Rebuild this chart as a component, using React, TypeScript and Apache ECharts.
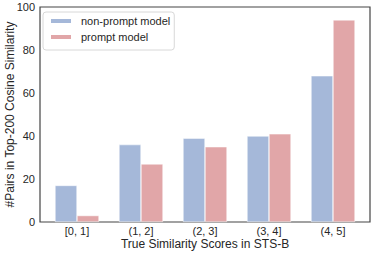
import React, { useEffect, useRef } from "react";
import * as echarts from "echarts";

const categories = ["[0, 1]", "(1, 2]", "(2, 3]", "(3, 4]", "(4, 5]"];
const nonPrompt = [17, 36, 39, 40, 68];
const prompt = [3, 27, 35, 41, 94];
const yTicks = [0, 20, 40, 60, 80, 100];

const FONT = "Liberation Sans, Arial, sans-serif";
const TXT = "#262626";

export default function App() {
  const ref = useRef<HTMLDivElement>(null);
  useEffect(() => {
    const chart = echarts.init(ref.current!, undefined, { renderer: "svg" });
    chart.setOption({
      animation: false,
      textStyle: { fontFamily: FONT },
      grid: {
        left: 40,
        top: 7,
        width: 330,
        height: 215,
        show: true,
        borderColor: "#444",
        borderWidth: 1.2,
        containLabel: false,
        outerBoundsMode: "none",
      },
      legend: {
        orient: "vertical",
        left: 43,
        top: 12,
        itemWidth: 22,
        itemHeight: 6,
        itemGap: 4,
        padding: [3, 4, 7, 6],
        borderColor: "#d8d8d8",
        borderWidth: 1,
        borderRadius: 3,
        backgroundColor: "#fff",
        icon: "rect",
        textStyle: { fontFamily: FONT, fontSize: 11, lineHeight: 12, color: TXT, padding: [0, 0, 0, 4] },
        data: ["non-prompt model", "prompt model"],
      },
      xAxis: {
        type: "value",
        min: -0.578,
        max: 4.578,
        name: "True Similarity Scores in STS-B",
        nameLocation: "middle",
        nameGap: 16,
        nameMoveOverlap: false,
        nameTextStyle: { fontFamily: FONT, fontSize: 12, color: TXT },
        axisLine: { show: false },
        axisTick: { show: false },
        splitLine: { show: false },
        axisLabel: {
          customValues: [0, 1, 2, 3, 4],
          formatter: (v: number) => categories[Math.round(v)] ?? "",
          fontFamily: FONT,
          fontSize: 11,
          lineHeight: 12,
          color: TXT,
          margin: 3,
        },
      },
      yAxis: {
        type: "value",
        min: 0,
        max: 100,
        interval: 20,
        name: "#Pairs in Top-200 Cosine Similarity",
        nameLocation: "middle",
        nameGap: 24,
        nameMoveOverlap: false,
        nameTextStyle: { fontFamily: FONT, fontSize: 12, color: TXT },
        axisLine: { show: false },
        axisTick: { show: false },
        splitLine: { show: false },
        axisLabel: {
          customValues: yTicks,
          fontFamily: FONT,
          fontSize: 11,
          color: TXT,
          margin: 5,
        },
      },
      series: [
        {
          name: "non-prompt model",
          type: "bar",
          barWidth: 22,
          barGap: "0%",
          itemStyle: { color: "#a5b8d9", borderColor: "#fff", borderWidth: 0.5 },
          data: nonPrompt.map((v, i) => [i, v]),
        },
        {
          name: "prompt model",
          type: "bar",
          barWidth: 22,
          barGap: "0%",
          itemStyle: { color: "#e1a6a8", borderColor: "#fff", borderWidth: 0.5 },
          data: prompt.map((v, i) => [i, v]),
        },
      ],
    });
    return () => chart.dispose();
  }, []);
  return <div ref={ref} style={{ width: 374, height: 254, position: "absolute", left: 0, top: 0 }} />;
}
